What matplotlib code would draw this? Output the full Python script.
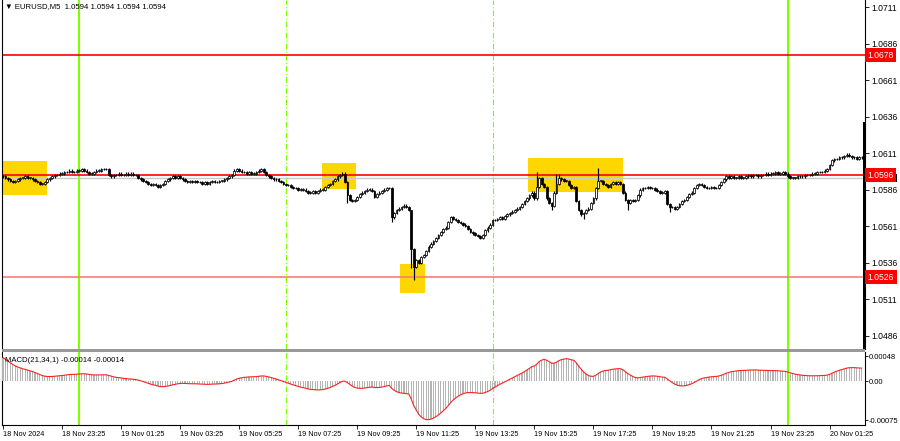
"""
EURUSD M5 terminal-style chart with key levels and a MACD(21,34,1) sub-window.
"""
import numpy as np
import matplotlib
matplotlib.use("Agg")
import matplotlib.pyplot as plt
from matplotlib.patches import Rectangle
from matplotlib.transforms import blended_transform_factory

BASE = 1.0500
PIP = 0.0001

# closes in pips above 1.0500, one per 5-minute bar (18 Nov 21:25 onwards)
close_pips = [
    95, 94, 93, 92, 91, 92, 93, 94, 94, 95, 94, 94, 93, 92, 91, 90, 90, 91, 93,
    94, 95, 96, 96, 97,
    97, 98, 98, 99, 98, 98,
    99, 99, 100, 99, 98, 97, 97, 98, 99, 99, 100, 100, 100,
    96, 95, 96, 96, 97, 96, 96, 97, 96, 97, 96, 96,
    94, 93, 92,
    91, 90, 89, 90, 89, 88, 89,
    90, 92, 93, 94, 95, 94, 95, 94,
    93, 92, 91, 92, 91, 92, 91, 91,
    90, 91, 90, 91, 92, 91,
    91, 92, 92, 93, 94, 95, 96,
    99, 100, 99, 98, 98, 97, 98, 97, 97, 98, 99, 100,
    98, 96, 95, 94, 93, 93,
    92, 91, 90, 89, 89,
    88, 87, 87, 86, 86, 86,
    85, 84, 84, 85, 84, 85, 86,
    86, 88, 89, 90, 92, 93, 95, 96,
    97, 91, 82, 79, 78,
    79, 81, 83, 84,
    85, 86, 86, 85, 81,
    83, 84, 85, 86, 87, 87, 67,
    70, 72, 73, 74, 75, 74, 72,
    45, 33, 38, 36, 40, 41,
    44, 47, 49, 51,
    53, 55, 57, 59, 60,
    64, 67, 66, 65,
    64, 63, 62, 61, 59, 57, 56,
    55, 54, 53, 55,
    58, 60, 62, 65,
    65, 66, 67, 66,
    68, 69, 70, 71,
    72, 73, 74,
    76, 78, 80, 82, 84, 80,
    88, 94, 90, 88,
    80, 77, 75,
    84, 90, 94,
    93, 92, 92,
    89, 87, 88,
    78, 72, 69,
    70, 72, 73,
    77, 80, 87, 92,
    92, 90, 89, 88,
    90, 91, 90, 91, 90,
    84, 79, 77,
    79, 78, 79,
    82, 86, 87,
    87, 88, 87, 87,
    86, 85, 84, 84, 85,
    76, 74, 74, 73, 74,
    76, 78, 79,
    81, 83, 84,
    87, 89, 90,
    89, 88, 87,
    87, 88, 87, 87,
    89, 91, 93,
    95, 94, 95, 94, 94, 95, 94, 94,
    95, 96, 95, 96, 96, 95, 96, 96, 97, 96,
    97, 97, 98, 97, 97, 98, 97,
    95, 94, 94, 94, 95,
    95, 95, 96, 96, 96, 97,
    97, 98, 98, 98,
    99, 100,
    103, 106, 107,
    107, 108, 108,
    109, 110, 109,
    108, 108, 107, 108, 108,
]
# shadows that reach well beyond the body (pips)
high_pips = {138: 98, 217: 98, 225: 97, 226: 97, 242: 101, 158: 88, 166: 68}
low_pips = {158: 64, 166: 32, 167: 24, 140: 77, 236: 66, 254: 72, 271: 71, 223: 72}
# the last, unfinished bar drawn as a tall block at the right edge
last_bar = (1.0632, 1.0632, 1.0460, 1.0460)

levels = [1.0678, 1.0596, 1.0526]
level_colors = ["#FF0000", "#FF0000", "#FF7A7A"]
bid_price = 1.0594

# highlighted zones: (first bar, last bar, low price, high price)
zones = [
    (-0.8, 17.9, 1.05823, 1.06056),
    (129.7, 143.5, 1.05864, 1.06042),
    (161.4, 171.5, 1.05152, 1.05350),
    (213.4, 252.0, 1.05844, 1.06076),
]
day_breaks = [31, 319]
session_marks = [115, 199]

price_ticks = [1.0711, 1.0686, 1.0661, 1.0636, 1.0611, 1.0586, 1.0561, 1.0536, 1.0511, 1.0486]
time_tick_bars = [0, 24, 48, 72, 96, 120, 144, 168, 192, 216, 240, 264, 288, 312, 336]
time_labels = ["18 Nov 2024", "18 Nov 23:25", "19 Nov 01:25", "19 Nov 03:25", "19 Nov 05:25",
               "19 Nov 07:25", "19 Nov 09:25", "19 Nov 11:25", "19 Nov 13:25", "19 Nov 15:25",
               "19 Nov 17:25", "19 Nov 19:25", "19 Nov 21:25", "19 Nov 23:25", "20 Nov 01:25"]
macd_ticks = [0.00048, 0.0, -0.00075]
macd_tick_labels = ["0.00048", "0.00", "-0.00075"]
# EMA state carried in from bars before the visible window (price)
macd_seed_fast = 1.0596
macd_seed_slow = 1.05912


def ema(values, n, seed):
    k = 2.0 / (n + 1)
    out = np.empty(len(values))
    prev = seed
    for i, v in enumerate(values):
        prev = prev + k * (v - prev)
        out[i] = prev
    return out


plt.rcParams.update({
    "font.family": ["Liberation Sans", "DejaVu Sans"],
    "font.size": 6,
    "axes.linewidth": 0.8,
})

W, H = 900, 441
fig = plt.figure(figsize=(W / 100, H / 100), dpi=100, facecolor="white")
ax = fig.add_axes([2 / W, (H - 349) / H, 863 / W, 349 / H])
ax2 = fig.add_axes([2 / W, (H - 425) / H, 863 / W, 73 / H])

close = BASE + np.array(close_pips) * PIP
n = len(close)
opens = np.concatenate([[close[0]], close[:-1]])
highs = np.maximum(opens, close) + 0.8 * PIP
lows = np.minimum(opens, close) - 0.8 * PIP
for i, v in high_pips.items():
    highs[i] = BASE + v * PIP
for i, v in low_pips.items():
    lows[i] = BASE + v * PIP
x = np.arange(n)

# zones under everything
for x0, x1, lo, hi in zones:
    ax.add_patch(Rectangle((x0, lo), x1 - x0, hi - lo, facecolor="#FFD700", edgecolor="none", zorder=1))

for b in day_breaks:
    for a in (ax, ax2):
        a.axvline(b, color="#7FFF00", lw=1.5, zorder=2)
for b in session_marks:
    for a in (ax, ax2):
        a.axvline(b, color="#7FFF00", lw=0.8, dashes=(5, 2, 1, 2), zorder=2)

ax.axhline(bid_price, color="#C8C8C8", lw=1.0, zorder=2)
for lvl, col in zip(levels, level_colors):
    ax.axhline(lvl, color=col, lw=1.2, zorder=2)

# candles
ax.vlines(x, lows, highs, color="black", lw=0.85, zorder=3)
up = close >= opens
body_lo = np.minimum(opens, close)
body_h = np.maximum(np.abs(close - opens), 0.3 * PIP)
ax.bar(x[up], body_h[up], bottom=body_lo[up], width=0.7, color="white", edgecolor="black", lw=0.55, zorder=4)
ax.bar(x[~up], body_h[~up], bottom=body_lo[~up], width=0.7, color="black", edgecolor="black", lw=0.55, zorder=4)
lo_, hi_ = min(last_bar[0], last_bar[3]), max(last_bar[0], last_bar[3])
ax.bar([n], [hi_ - lo_], bottom=lo_, width=0.8, color="black", zorder=4)

ax.set_xlim(-0.4, -0.4 + 863 / 2.46)
ax.set_ylim(1.04768, 1.07159)
ax.yaxis.tick_right()
ax.set_yticks(price_ticks)
ax.set_yticklabels([f"{p:.4f}" for p in price_ticks])
ax.tick_params(axis="y", length=3, width=0.6, pad=1.5, labelsize=6.2)
ax.set_xticks([])
for s in ("top", "bottom"):
    ax.spines[s].set_visible(False)

# level tags on the price scale; the bid tag sits mostly hidden under the 1.0596 tag
yt = blended_transform_factory(ax.transAxes, ax.transData)
ax.add_patch(Rectangle((1.001, bid_price - 0.0003), 0.036, 0.0006, transform=yt,
                       facecolor="black", edgecolor="none", clip_on=False, zorder=5))
for lvl in levels:
    ax.text(1.003, lvl, f"{lvl:.4f}", transform=yt, color="white", fontsize=6.2, va="center",
            ha="left", clip_on=False, zorder=6,
            bbox=dict(boxstyle="square,pad=0.3", fc="#FF0000", ec="none"))

# MACD(21,34,1): signal SMA(1) equals the main line
macd = ema(close, 21, macd_seed_fast) - ema(close, 34, macd_seed_slow)
ax2.bar(x, macd, width=0.45, color="#B4B4B4", zorder=3)
ax2.plot(x, macd, color="#FF2020", lw=0.8, zorder=4)
ax2.set_xlim(ax.get_xlim())
ax2.set_ylim(-0.000845, 0.000557)
ax2.yaxis.tick_right()
ax2.set_yticks(macd_ticks)
ax2.set_yticklabels(macd_tick_labels)
ax2.tick_params(axis="y", length=2, width=0.6, pad=0.8, labelsize=5.5)
ax2.set_xticks(time_tick_bars)
ax2.set_xticklabels(time_labels)
ax2.tick_params(axis="x", length=3, width=0.6, pad=1.5, labelsize=5.2)
for lab in ax2.get_xticklabels():
    lab.set_ha("left")
ax2.spines["top"].set_visible(False)
ax2.text(0.003, 0.93, "MACD(21,34,1) -0.00014 -0.00014", transform=ax2.transAxes,
         fontsize=5.6, va="top", ha="left", zorder=6)

# grey splitter between the two windows
fig.patches.append(Rectangle((2 / W, (H - 352) / H), 863 / W, 3 / H, transform=fig.transFigure,
                             facecolor="#999999", edgecolor="none"))

fig.text(5 / W, 1 - 7 / H, "\u25bc EURUSD,M5  1.0594 1.0594 1.0594 1.0594", fontsize=5.6,
         va="center", ha="left", family=["Liberation Sans", "DejaVu Sans"])

fig.savefig("out.png", dpi=100, facecolor="white")
